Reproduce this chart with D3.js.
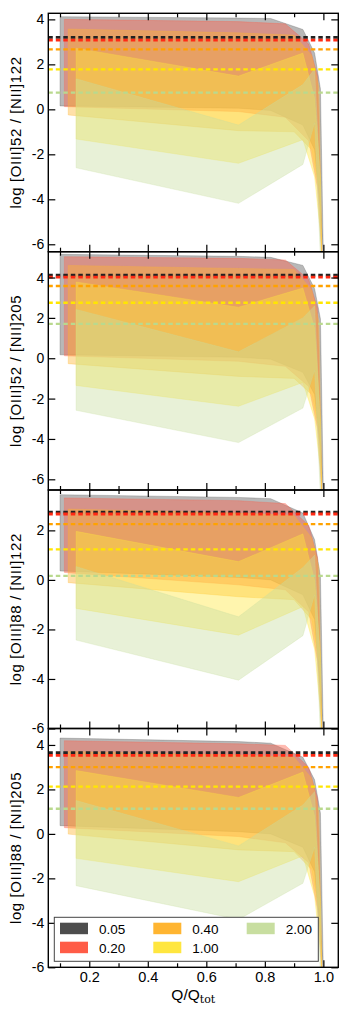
<!DOCTYPE html>
<html>
<head>
<meta charset="utf-8">
<script src="https://cdn.jsdelivr.net/npm/d3@7"></script>
<style>
  body{margin:0;background:#fff;}
  svg{display:block;font-family:"Liberation Sans",Arial,sans-serif;}
  .axis path{display:none;}
  .axis line{stroke:#000;stroke-width:1.2;}
</style>
</head>
<body>
<svg id="chart" width="349" height="1016"></svg>
<script>
// metallicity labels / colours
var zLabels = ["0.05","0.20","0.40","1.00","2.00"];
var bandColors = ["#555555","#ff5c47","#ffb531","#ffe63f","#c8dea0"];
var lineColors = ["#222222","#ff2a14","#ffa200","#ffe600","#b9d98e"];

// Q/Qtot sample points of each band
var qGray   = [0.10, 0.71, 0.82, 0.93, 0.97, 0.99, 1.00];
var qRed    = [0.115, 0.71, 0.87, 0.95, 0.98, 0.995];
var qOrange = [0.128, 0.71, 0.90, 0.96, 0.985, 0.995];
var qYellow = [0.155, 0.71, 0.93, 0.97, 0.99, 0.995];
var qGreen  = [0.155, 0.71, 0.93, 0.97, 0.99];
var qSets = [qGray, qRed, qOrange, qYellow, qGreen];

var panelLabels = ["log [OIII]52 / [NII]122","log [OIII]52 / [NII]205","log [OIII]88 / [NII]122","log [OIII]88 / [NII]205"];

// panel 1 : [OIII]52/[NII]122
var hi1 = [[4.12,4.06,4.04,3.55,2.5,0.9,-6.6],[4.0,3.9,3.8,2.9,1.5,-6.6],[3.57,3.4,3.3,2.4,1.0,-6.6],[2.72,1.48,2.5,0.5,-3,-6.6],[1.36,-0.7,1.1,1.8,-3.5]];
var lo1 = [[0.15,0.05,-0.05,-0.7,-1.8,-4.5,-6.6],[0.12,-0.1,-0.35,-1.4,-3.5,-6.6],[-0.25,-0.95,-1.0,-1.8,-3.5,-6.6],[-1.32,-2.4,-1.35,-3.0,-5.5,-6.6],[-2.6,-4.18,-2.45,-0.6,-6.6]];
var lev1 = [3.2, 3.08, 2.67, 1.78, 0.74];
// panel 2 : [OIII]52/[NII]205
var hi2 = [[5.15,5.05,5.0,4.6,3.45,1.95,-6.8],[5.03,4.95,4.87,3.9,2.5,-6.8],[4.6,4.45,4.4,3.4,1.8,-6.8],[3.78,2.53,3.48,1.5,-3,-6.8],[2.42,0.32,2.0,2.6,-3.5]];
var lo2 = [[0.17,0.05,-0.05,-0.7,-1.8,-4.5,-6.8],[0.12,-0.15,-0.4,-1.4,-3.5,-6.8],[-0.27,-0.9,-1.0,-1.8,-3.5,-6.8],[-1.35,-2.38,-1.2,-3.0,-5.5,-6.8],[-2.58,-4.18,-2.47,-0.6,-6.8]];
var lev2 = [4.12, 4.02, 3.58, 2.75, 1.7];
// panel 3 : [OIII]88/[NII]122
var hi3 = [[3.44,3.33,3.28,2.7,1.62,0.13,-6.3],[3.31,3.2,3.08,2.2,0.9,-6.3],[2.86,2.7,2.6,1.7,0.5,-6.3],[1.96,0.74,1.86,0.0,-3,-6.3],[0.54,-1.49,0.5,1.0,-3.5]];
var lo3 = [[0.36,0.1,0.0,-0.6,-1.6,-4.5,-6.3],[0.3,-0.2,-0.4,-1.3,-3.3,-6.3],[-0.11,-0.68,-0.8,-1.6,-3.3,-6.3],[-1.15,-2.23,-1.08,-2.8,-5.3,-6.3],[-2.43,-4.05,-2.25,-0.6,-6.3]];
var lev3 = [2.74, 2.66, 2.25, 1.23, 0.16];
// panel 4 : [OIII]88/[NII]205
var hi4 = [[4.31,4.15,4.08,3.45,2.43,0.93,-6.3],[4.19,4.05,3.98,3.0,1.6,-6.3],[3.7,3.55,3.45,2.5,1.0,-6.3],[2.85,1.64,2.78,0.8,-3,-6.3],[1.5,-0.54,1.3,1.9,-3.5]];
var lo4 = [[0.37,0.1,0.0,-0.6,-1.7,-4.5,-6.3],[0.28,-0.12,-0.4,-1.3,-3.4,-6.3],[-0.01,-0.72,-0.8,-1.6,-3.4,-6.3],[-1.1,-2.15,-0.99,-2.8,-5.3,-6.3],[-2.33,-3.85,-2.22,-0.6,-6.3]];
var lev4 = [3.65, 3.53, 3.0, 2.13, 1.13];

var yDomains = [[-6.33,4.27],[-6.53,5.28],[-6.0,3.63],[-6.0,4.74]];
var yTicks = [[-6,-4,-2,0,2,4],[-6,-4,-2,0,2,4],[-6,-4,-2,0,2],[-6,-4,-2,0,2,4]];
var xMajor = [0.2,0.4,0.6,0.8,1.0];
var xMinor = [0.1,0.3,0.5,0.7,0.9];

var panels = [
  {hi:hi1, lo:lo1, lev:lev1},
  {hi:hi2, lo:lo2, lev:lev2},
  {hi:hi3, lo:lo3, lev:lev3},
  {hi:hi4, lo:lo4, lev:lev4}
];
var panelTops = [13.3, 251.7, 490, 728.5, 967.3];

var svg = d3.select("#chart");
var left = 48.3, right = 338.3;
var x = d3.scaleLinear().domain([0.06,1.051]).range([left,right]);

panels.forEach(function(p,pi){
  var top = panelTops[pi], bottom = panelTops[pi+1];
  var y = d3.scaleLinear().domain(yDomains[pi]).range([bottom,top]);
  var g = svg.append("g").attr("class","panel");

  g.append("clipPath").attr("id","clip"+pi)
    .append("rect").attr("x",left).attr("y",top).attr("width",right-left).attr("height",bottom-top);

  var plot = g.append("g").attr("clip-path","url(#clip"+pi+")");

  var area = d3.area()
    .x(function(d){return x(d.q);})
    .y0(function(d){return y(d.lo);})
    .y1(function(d){return y(d.hi);});

  var bands = qSets.map(function(qs,si){
    return qs.map(function(q,k){return {q:q, lo:p.lo[si][k], hi:p.hi[si][k]};});
  });

  plot.selectAll(".band").data(bands).enter().append("path")
    .attr("class","band")
    .attr("d",area)
    .style("fill",function(d,i){return bandColors[i];})
    .style("fill-opacity",0.42)
    .style("stroke",function(d,i){return bandColors[i];})
    .style("stroke-opacity",0.35)
    .style("stroke-width",0.8);

  plot.selectAll(".lev").data(p.lev).enter().append("line")
    .attr("class","lev")
    .attr("x1",left).attr("x2",right)
    .attr("y1",function(d){return y(d);}).attr("y2",function(d){return y(d);})
    .style("stroke",function(d,i){return lineColors[i];})
    .style("stroke-width",function(d,i){return i<2?2.8:2.3;})
    .style("stroke-dasharray","4.5,3");

  // ticks: inward on all four sides
  g.append("g").attr("class","axis").attr("transform","translate(0,"+bottom+")")
    .call(d3.axisBottom(x).tickValues(xMajor).tickSize(-7).tickFormat(""));
  g.append("g").attr("class","axis").attr("transform","translate(0,"+bottom+")")
    .call(d3.axisBottom(x).tickValues(xMinor).tickSize(-4).tickFormat(""));
  g.append("g").attr("class","axis").attr("transform","translate(0,"+top+")")
    .call(d3.axisTop(x).tickValues(xMajor).tickSize(-7).tickFormat(""));
  g.append("g").attr("class","axis").attr("transform","translate(0,"+top+")")
    .call(d3.axisTop(x).tickValues(xMinor).tickSize(-4).tickFormat(""));

  var yl = g.append("g").attr("class","axis").attr("transform","translate("+left+",0)")
    .call(d3.axisLeft(y).tickValues(yTicks[pi]).tickSize(-7).tickFormat(function(d){return String(d);}));
  yl.selectAll("text").style("font-size","14px").style("fill","#000").attr("x",-4);
  g.append("g").attr("class","axis").attr("transform","translate("+right+",0)")
    .call(d3.axisRight(y).tickValues(yTicks[pi]).tickSize(-7).tickFormat(""));

  g.append("rect").attr("x",left).attr("y",top).attr("width",right-left).attr("height",bottom-top)
    .style("fill","none").style("stroke","#000").style("stroke-width",1.4);

  g.append("text")
    .attr("transform","translate(21,"+((top+bottom)/2)+") rotate(-90)")
    .attr("text-anchor","middle")
    .style("font-size","15px")
    .style("letter-spacing","0.6px")
    .text(panelLabels[pi]);

  if(pi===3){
    var xl = g.append("g").attr("class","axis").attr("transform","translate(0,"+bottom+")")
      .call(d3.axisBottom(x).tickValues(xMajor).tickSize(0).tickPadding(4).tickFormat(d3.format(".1f")));
    xl.selectAll("text").style("font-size","14.5px").style("fill","#000");
  }
});

// x label
var xt = svg.append("text").attr("x",(left+right)/2).attr("y",1000)
  .attr("text-anchor","middle").style("font-size","15.5px");
xt.append("tspan").text("Q/Q");
xt.append("tspan").attr("dy",3).style("font-size","11px")
  .style("font-family","'DejaVu Serif','Liberation Serif',serif").text("tot");

// legend
var leg = svg.append("g").attr("transform","translate(54.3,917.3)");
leg.append("rect").attr("width",264).attr("height",44)
  .style("fill","#fff").style("stroke","#444").style("stroke-width",1);
var legCols = [5.7, 99, 192.4];
var legRows = [5.4, 24.4];
var items = leg.selectAll(".item").data(zLabels).enter().append("g")
  .attr("class","item")
  .attr("transform",function(d,i){
    return "translate("+legCols[Math.floor(i/2)]+","+legRows[i%2]+")";
  });
items.append("rect").attr("width",28).attr("height",11.5)
  .style("fill",function(d,i){return i===0?"#4d4d4d":bandColors[i];});
items.append("text").attr("x",39).attr("y",10.8)
  .style("font-size","13.5px").text(function(d){return d;});
</script>
</body>
</html>
